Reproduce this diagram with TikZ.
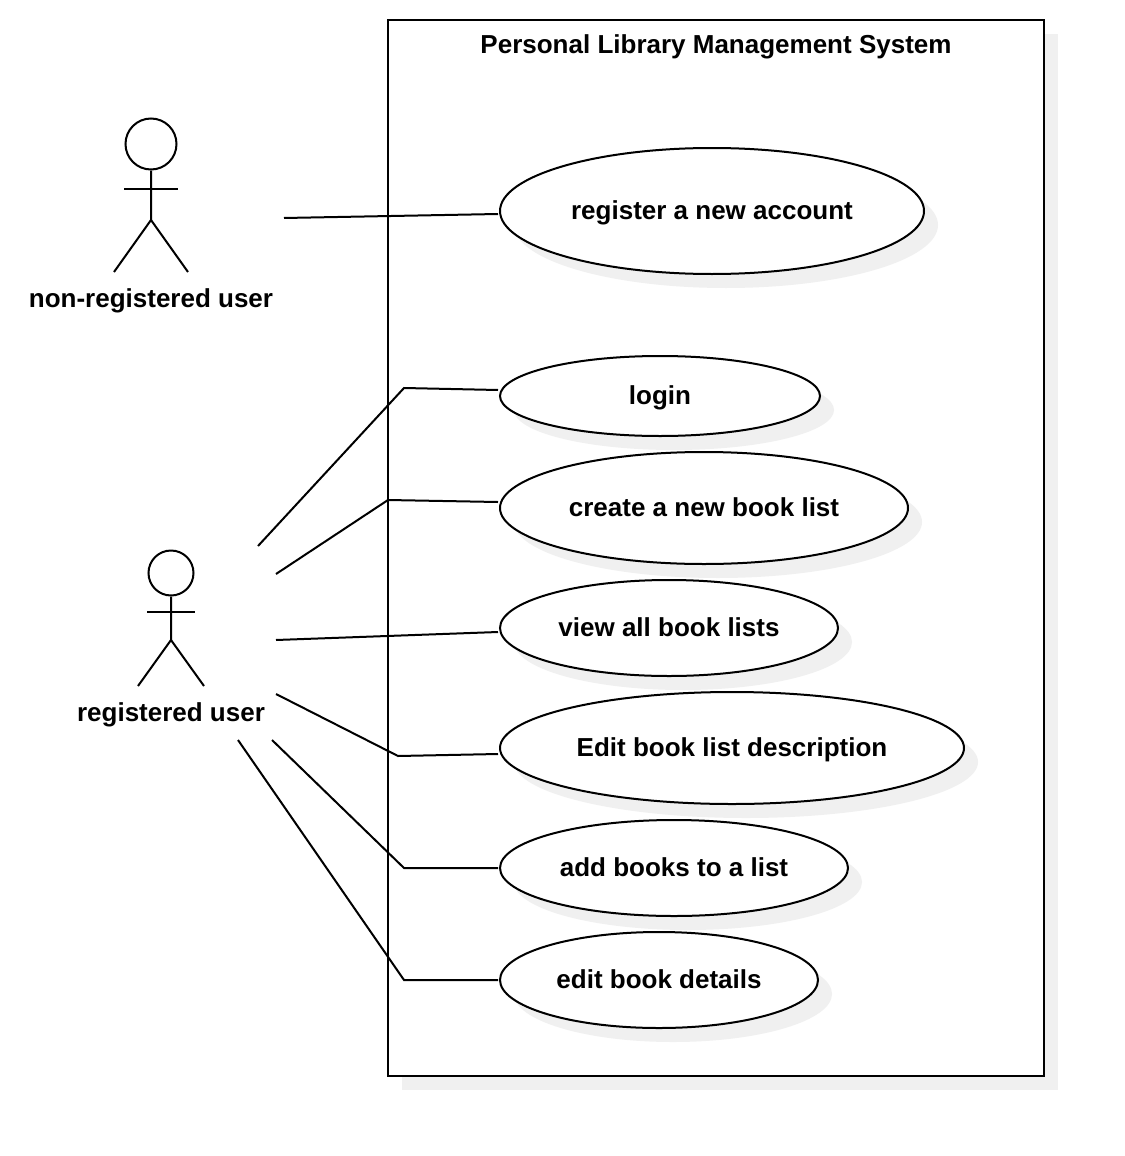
\documentclass[tikz,border=0pt]{standalone}
\usepackage{fontspec}
\setmainfont{Liberation Sans}
\usetikzlibrary{shapes.geometric}
\tikzset{
  x=0.75pt,y=-0.75pt,
  usecase/.style={draw=black,line width=1.5pt,ellipse,fill=white,inner sep=0pt,font=\fontsize{19.5pt}{24pt}\selectfont\bfseries,text height=14pt,text depth=1pt},
  caseshadow/.style={fill=black!6,draw=none,ellipse,inner sep=0pt},
  actorlabel/.style={font=\fontsize{19.5pt}{24pt}\selectfont\bfseries,text height=14pt,text depth=1pt},
  link/.style={draw=black,line width=1.5pt},
  stick/.style={draw=black,line width=1.5pt}
}
\newcommand{\usecase}[6]{% name, cx, cy, w, h, text
  \node[caseshadow,minimum width=#4*0.75pt,minimum height=#5*0.75pt] at (#2+14,#3+14) {};
  \node[usecase,minimum width=#4*0.75pt,minimum height=#5*0.75pt] (#1) at (#2,#3) {#6};
}
\begin{document}
\begin{tikzpicture}
\useasboundingbox (0,0) rectangle (1124,1156);
\fill[black!6] (402,34) rectangle (1058,1090);
\draw[fill=white,line width=1.5pt] (388,20) rectangle (1044,1076);
\node[actorlabel] (systemtitle) at (716,45) {Personal Library Management System};
% use cases
\usecase{register}{712}{211}{424}{126}{register a new account}
\usecase{login}{660}{396}{320}{80}{login}
\usecase{createlist}{704}{508}{408}{112}{create a new book list}
\usecase{viewlists}{669}{628}{338}{96}{view all book lists}
\usecase{editlist}{732}{748}{464}{112}{Edit book list description}
\usecase{addbooks}{674}{868}{348}{96}{add books to a list}
\usecase{editbook}{659}{980}{318}{96}{edit book details}
% first actor
\node[draw,circle,line width=1.5pt,minimum size=51*0.75pt,inner sep=0pt] (headone) at (151,144) {};
\coordinate (hipone) at (151,220);
\coordinate (armoneL) at (124,188.5);
\coordinate (armoneR) at (178,188.5);
\coordinate (footoneL) at (114,272);
\coordinate (footoneR) at (188,272);
\draw[stick] (headone) -- (hipone) -- (footoneL);
\draw[stick] (hipone) -- (footoneR);
\draw[stick] (armoneL) -- (armoneR);
\node[actorlabel] (labelone) at (151,299) {non-registered user};
% second actor
\node[draw,circle,line width=1.5pt,minimum size=45*0.75pt,inner sep=0pt] (headtwo) at (171,573) {};
\coordinate (hiptwo) at (171,640);
\coordinate (armtwoL) at (147,612);
\coordinate (armtwoR) at (195,612);
\coordinate (foottwoL) at (138,686);
\coordinate (foottwoR) at (204,686);
\draw[stick] (headtwo) -- (hiptwo) -- (foottwoL);
\draw[stick] (hiptwo) -- (foottwoR);
\draw[stick] (armtwoL) -- (armtwoR);
\node[actorlabel] (labeltwo) at (171,713) {registered user};
% connectors
\coordinate (startreg) at (284,218);
\coordinate (endreg) at (498,214);
\coordinate (startlogin) at (258,546);
\coordinate (endlogin) at (498,390);
\coordinate (startcreate) at (276,574);
\coordinate (endcreate) at (498,502);
\coordinate (startview) at (276,640);
\coordinate (endview) at (498,632);
\coordinate (startedit) at (276,694);
\coordinate (endedit) at (498,754);
\coordinate (startadd) at (272,740);
\coordinate (endadd) at (498,868);
\coordinate (startbook) at (238,740);
\coordinate (endbook) at (498,980);
\draw[link] (startreg) -- (endreg);
\draw[link] (startlogin) -- (404,388) -- (endlogin);
\draw[link] (startcreate) -- (388,500) -- (endcreate);
\draw[link] (startview) -- (endview);
\draw[link] (startedit) -- (398,756) -- (endedit);
\draw[link] (startadd) -- (404,868) -- (endadd);
\draw[link] (startbook) -- (404,980) -- (endbook);
\end{tikzpicture}
\end{document}
